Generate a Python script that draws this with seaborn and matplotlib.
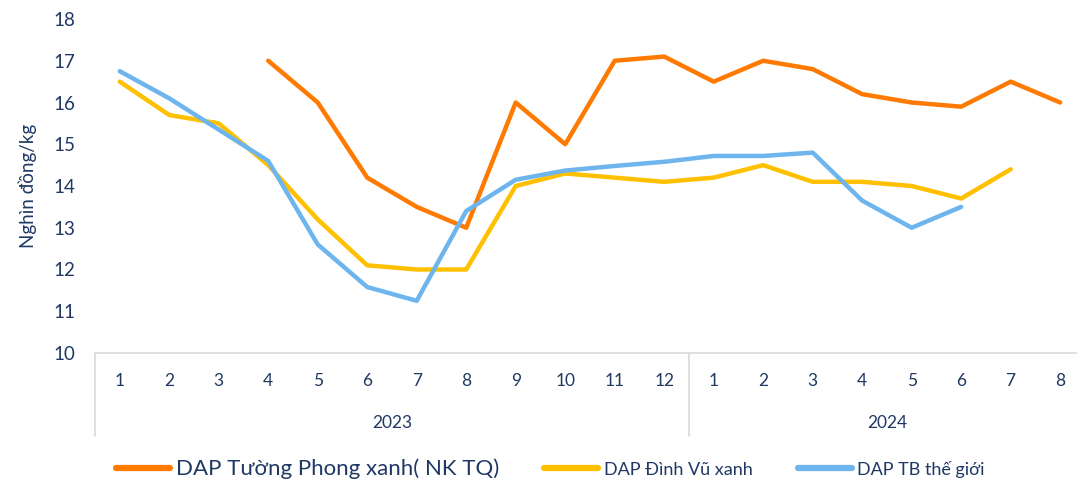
import numpy as np
import pandas as pd
import matplotlib
matplotlib.use('Agg')
import matplotlib.pyplot as plt
import matplotlib.transforms as mtransforms
import seaborn as sns

# Data
months = ['1', '2', '3', '4', '5', '6', '7', '8', '9', '10', '11', '12',
          '1', '2', '3', '4', '5', '6', '7', '8']
years = ['2023', '2024']
year_lengths = [12, 8]

tuong_phong = [np.nan, np.nan, np.nan, 17.0, 16.0, 14.2, 13.5, 13.0, 16.0, 15.0, 17.0, 17.1,
               16.5, 17.0, 16.8, 16.2, 16.0, 15.9, 16.5, 16.0]
dinh_vu = [16.5, 15.7, 15.5, 14.5, 13.2, 12.1, 12.0, 12.0, 14.0, 14.3, 14.2, 14.1,
           14.2, 14.5, 14.1, 14.1, 14.0, 13.7, 14.4, np.nan]
the_gioi = [16.75, 16.1, 15.35, 14.6, 12.6, 11.58, 11.25, 13.4, 14.15, 14.37, 14.48, 14.58,
            14.72, 14.72, 14.8, 13.65, 13.0, 13.5, np.nan, np.nan]

series_names = ['DAP Tường Phong xanh( NK TQ)', 'DAP Đình Vũ xanh', 'DAP TB thế giới']
colors = ['#FF7A00', '#FFC000', '#6EB5EE']

df = pd.DataFrame({
    'idx': list(range(len(months))) * 3,
    'value': tuong_phong + dinh_vu + the_gioi,
    'series': sum([[n] * len(months) for n in series_names], []),
})

sns.set_style('white')
plt.rcParams['font.family'] = ['Lato', 'DejaVu Sans']
text_color = '#1F3864'

fig = plt.figure(figsize=(10.77, 4.8), dpi=100)
ax = fig.add_axes([0.0882, 0.2646, 0.9118, 0.6958])

sns.lineplot(data=df, x='idx', y='value', hue='series', hue_order=series_names,
             palette=colors, linewidth=3.2, ax=ax, legend=False)

ax.set_ylim(10, 18)
ax.set_yticks(range(10, 19))
ax.set_xlim(-0.5, 19.34)
ax.set_xticks([])
ax.set_xlabel('')
ax.set_ylabel('Nghìn đồng/kg', color=text_color, fontsize=13.5, labelpad=12)
ax.tick_params(axis='y', colors=text_color, labelsize=13.5, length=0, pad=14)

for s in ['top', 'right', 'left']:
    ax.spines[s].set_visible(False)
ax.spines['bottom'].set_color('#D9D9D9')
ax.spines['bottom'].set_linewidth(1.2)

# month labels and year groups under the axis
trans = mtransforms.blended_transform_factory(ax.transData, ax.transAxes)
for i, m in enumerate(months):
    ax.text(i, -0.085, m, transform=trans, ha='center', va='center',
            fontsize=12.5, color=text_color)

start = 0
bounds = [-0.5]
for y, n in zip(years, year_lengths):
    center = start + (n - 1) / 2
    ax.text(center, -0.21, y, transform=trans, ha='center', va='center',
            fontsize=12.5, color=text_color)
    start += n
    bounds.append(start - 0.5)
for b in bounds[:-1]:
    ax.plot([b, b], [0, -0.25], transform=trans, color='#D9D9D9', lw=1.2, clip_on=False)

# legend
handles = [plt.Line2D([0], [0], color=c, lw=4.5) for c in colors]
leg = fig.legend(handles, series_names, loc='center', bbox_to_anchor=(0.511, 0.024),
                 ncol=3, frameon=False, fontsize=13, handlelength=3.0,
                 columnspacing=2.5, handletextpad=0.3)
for i, t in enumerate(leg.get_texts()):
    t.set_color(text_color)
    if i == 0:
        t.set_fontsize(16)

fig.savefig('out.png', dpi=100)
